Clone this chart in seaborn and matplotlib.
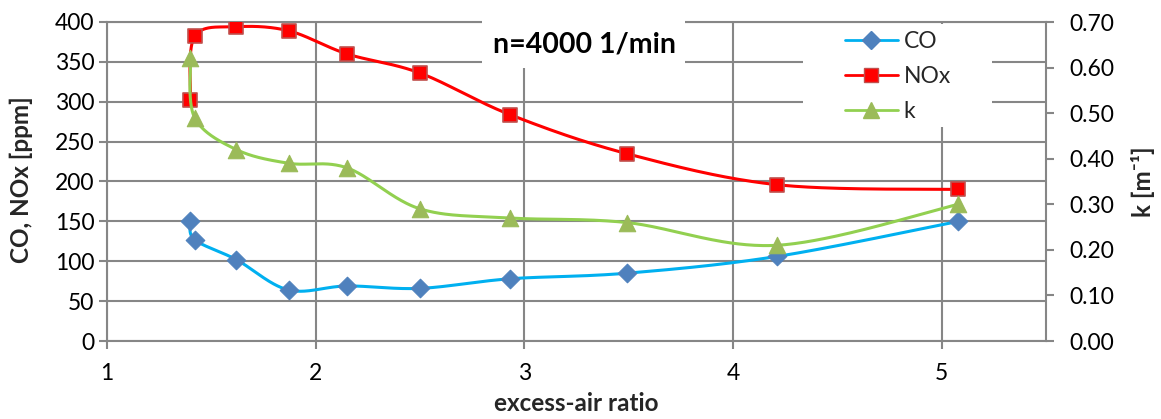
import numpy as np
import pandas as pd
import matplotlib
matplotlib.use("Agg")
import matplotlib.pyplot as plt
import seaborn as sns
from matplotlib.lines import Line2D
from matplotlib.patches import Rectangle

# ---- data ----
excess_air = [1.40, 1.42, 1.62, 1.87, 2.15, 2.50, 2.93, 3.49, 4.21, 5.08]
co_ppm = [150, 127, 102, 64, 69, 66, 78, 85, 106, 150]
nox_ppm = [302, 382, 394, 389, 360, 336, 284, 235, 196, 190]
k_values = [0.62, 0.49, 0.42, 0.39, 0.38, 0.29, 0.27, 0.26, 0.21, 0.30]
series_names = ["CO", "NOx", "k"]
title_text = "n=4000 1/min"
x_label = "excess-air ratio"
y_left_label = "CO, NOx [ppm]"
y_right_label = "k [m\u207b\u00b9]"
x_ticks = [1, 2, 3, 4, 5]
left_ticks = [0, 50, 100, 150, 200, 250, 300, 350, 400]
right_ticks = [0.0, 0.1, 0.2, 0.3, 0.4, 0.5, 0.6, 0.7]


def smooth(xs, ys, n=60):
    """Excel-like smoothed line (Catmull-Rom Bezier segments)."""
    P = np.column_stack([xs, ys]).astype(float)
    segs = []
    for i in range(len(P) - 1):
        p0 = P[i - 1] if i > 0 else P[i]
        p1, p2 = P[i], P[i + 1]
        p3 = P[i + 2] if i + 2 < len(P) else P[i + 1]
        c1 = p1 + (p2 - p0) / 6.0
        c2 = p2 - (p3 - p1) / 6.0
        t = np.linspace(0, 1, n)[:, None]
        b = (1 - t) ** 3 * p1 + 3 * (1 - t) ** 2 * t * c1 + 3 * (1 - t) * t ** 2 * c2 + t ** 3 * p2
        segs.append(b if i == 0 else b[1:])
    out = np.vstack(segs)
    return out[:, 0], out[:, 1]


sns.set_theme(style="white")
plt.rcParams["font.family"] = ["Lato", "DejaVu Sans"]

W, H = 1161, 419
fig = plt.figure(figsize=(W / 100, H / 100), dpi=100)
L, R, T, B = 107, 1046, 22, 341
ax = fig.add_axes([L / W, 1 - B / H, (R - L) / W, (B - T) / H])
ax2 = ax.twinx()

grid_c = "#868686"
co_line, co_mark = "#00B0F0", "#4F81BD"
nox_line, nox_mark, nox_edge = "#FF0000", "#FF0000", "#C0504D"
k_line, k_mark = "#92D050", "#9BBB59"

# smoothed lines
sx, sy = smooth(excess_air, co_ppm)
sns.lineplot(x=sx, y=sy, ax=ax, color=co_line, lw=2.2, sort=False, estimator=None, zorder=4)
sx, sy = smooth(excess_air, nox_ppm)
sns.lineplot(x=sx, y=sy, ax=ax, color=nox_line, lw=2.2, sort=False, estimator=None, zorder=4)
sx, sy = smooth(excess_air, k_values)
sns.lineplot(x=sx, y=sy, ax=ax2, color=k_line, lw=2.2, sort=False, estimator=None, zorder=4)

# markers
sns.scatterplot(x=excess_air, y=co_ppm, ax=ax, marker="D", s=90, color=co_mark,
                edgecolor=co_mark, linewidth=0.8, zorder=5)
sns.scatterplot(x=excess_air, y=nox_ppm, ax=ax, marker="s", s=115, color=nox_mark,
                edgecolor=nox_edge, linewidth=1.2, zorder=5)
sns.scatterplot(x=excess_air, y=k_values, ax=ax2, marker="^", s=140, color=k_mark,
                edgecolor=k_mark, linewidth=0.8, zorder=5)

# axes limits & ticks
ax.set_xlim(1, 5.5)
ax.set_ylim(0, 400)
ax2.set_ylim(0, 0.7)
ax.set_xticks(x_ticks)
ax.set_xticklabels([str(v) for v in x_ticks])
ax.set_yticks(left_ticks)
ax.set_yticklabels([str(v) for v in left_ticks])
ax2.set_yticks(right_ticks)
ax2.set_yticklabels([f"{v:.2f}" for v in right_ticks])

ax.grid(True, color=grid_c, lw=1.5, zorder=1)
ax.set_axisbelow(True)
ax2.grid(False)

for s in ["left", "bottom", "top"]:
    ax.spines[s].set_color(grid_c)
    ax.spines[s].set_linewidth(1.5)
ax.spines["right"].set_visible(False)
for s in ["left", "bottom", "top"]:
    ax2.spines[s].set_visible(False)
ax2.spines["right"].set_color(grid_c)
ax2.spines["right"].set_linewidth(1.5)

ax.tick_params(axis="x", direction="out", length=6, width=1.5, color=grid_c,
               labelsize=16.5, pad=10, labelcolor="black", bottom=True)
ax.tick_params(axis="y", direction="out", length=6, width=1.5, color=grid_c,
               labelsize=16.5, pad=3, labelcolor="black", left=True)
ax2.tick_params(axis="y", direction="out", length=6, width=1.5, color=grid_c,
                labelsize=16.5, pad=11, labelcolor="black", right=True)

# axis labels
ax.set_xlabel(x_label, fontsize=17.5, fontweight="bold", va="center")
ax.xaxis.set_label_coords(576 / W, 1 - 403 / H, transform=fig.transFigure)
ax.set_ylabel(y_left_label, fontsize=17.5, fontweight="bold", va="center")
ax.yaxis.set_label_coords(21 / W, 1 - 180 / H, transform=fig.transFigure)
ax2.set_ylabel(y_right_label, fontsize=17.5, fontweight="bold", va="center", rotation=90)
ax2.yaxis.set_label_coords(1143 / W, 1 - 182 / H, transform=fig.transFigure)

# title box (covers gridlines)
ax.add_patch(Rectangle((482 / W, 1 - 68 / H), (685 - 482) / W, (68 - 8) / H,
                       transform=fig.transFigure, facecolor="white", edgecolor="none",
                       zorder=3, clip_on=False))
ax.text(584 / W, 1 - 45 / H, title_text, transform=fig.transFigure, ha="center", va="center",
        fontsize=20.5, fontweight="bold", color="black", zorder=6)

# legend box
ax.add_patch(Rectangle((803 / W, 1 - 127 / H), (992 - 803) / W, (127 - 24) / H,
                       transform=fig.transFigure, facecolor="white", edgecolor="none",
                       zorder=2.4, clip_on=False))
handles = [
    Line2D([0], [0], color=co_line, lw=2, marker="D", markersize=9,
           markerfacecolor=co_mark, markeredgecolor=co_mark),
    Line2D([0], [0], color=nox_line, lw=2, marker="s", markersize=10,
           markerfacecolor=nox_mark, markeredgecolor=nox_edge),
    Line2D([0], [0], color=k_line, lw=2, marker="^", markersize=11,
           markerfacecolor=k_mark, markeredgecolor=k_mark),
]
fig.legend(handles, series_names, loc="upper left", bbox_to_anchor=(845 / W, 1 - 31 / H),
           frameon=False, fontsize=16.5, handlelength=2.3, handletextpad=0.25,
           labelspacing=0.62, borderpad=0, borderaxespad=0)

fig.savefig("out.png", dpi=100)
